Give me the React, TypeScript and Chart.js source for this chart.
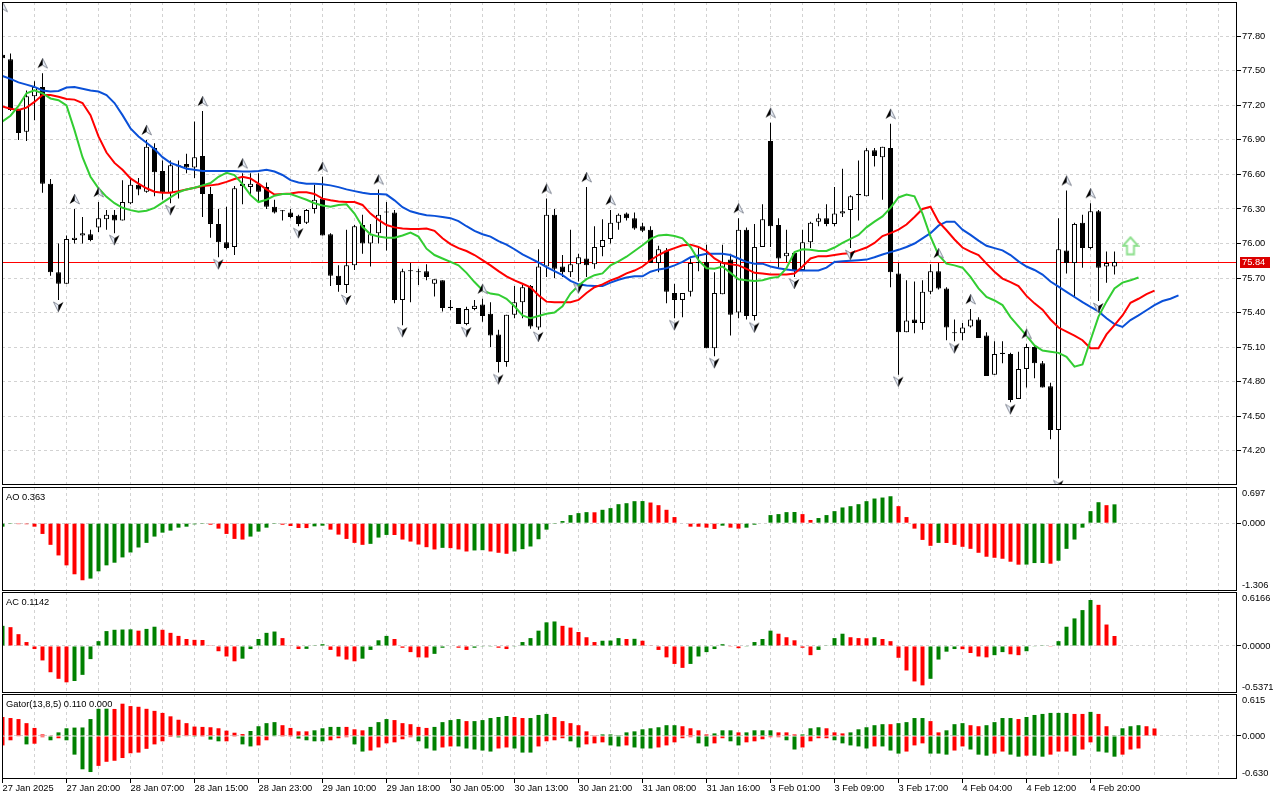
import React, { useEffect, useRef } from "react";
import { Chart, registerables } from "chart.js";

Chart.register(...registerables);

const FONT_FAMILY = '"Liberation Sans", Arial, sans-serif';
const FONT_SIZE = 9.3;
const GRID_COLOR = "#d2d2d2";
const UP_COLOR = "#008000";
const DOWN_COLOR = "#ff0000";
const JAW_COLOR = "#0a50d8";
const TEETH_COLOR = "#ff0000";
const LIPS_COLOR = "#32cd32";
const AXIS_WIDTH = 43;
const X_MIN = -0.0625;
const X_MAX = 154.3125;
const MAIN_MIN = 73.902;
const MAIN_MAX = 78.098;

// ---- time axis ----
const axisLabelIndex = [0, 8, 16, 24, 32, 40, 48, 56, 64, 72, 80, 88, 96, 104, 112, 120, 128, 136];
const axisLabels = [
  "27 Jan 2025", "27 Jan 20:00", "28 Jan 07:00", "28 Jan 15:00", "28 Jan 23:00", "29 Jan 10:00",
  "29 Jan 18:00", "30 Jan 05:00", "30 Jan 13:00", "30 Jan 21:00", "31 Jan 08:00", "31 Jan 16:00",
  "3 Feb 01:00", "3 Feb 09:00", "3 Feb 17:00", "4 Feb 04:00", "4 Feb 12:00", "4 Feb 20:00",
];
const priceTicks = [74.2, 74.5, 74.8, 75.1, 75.4, 75.7, 76.0, 76.3, 76.6, 76.9, 77.2, 77.5, 77.8];

// ---- candles ----
const openPrices = [
  77.64, 77.60, 77.16, 76.97, 77.28, 77.36, 76.52, 75.75, 75.65, 76.03,
  76.07, 76.08, 76.14, 76.21, 76.25, 76.20, 76.35, 76.51, 76.45, 76.83,
  76.63, 76.44, 76.68, 76.69, 76.66, 76.76, 76.43, 76.17, 76.01, 75.97,
  76.52, 76.49, 76.52, 76.49, 76.32, 76.28, 76.27, 76.24, 76.18, 76.30,
  76.39, 76.08, 75.72, 75.64, 75.81, 76.16, 76.00, 76.09, 76.27, 76.27,
  75.51, 75.76, 75.75, 75.76, 75.65, 75.68, 75.45, 75.44, 75.30, 75.43,
  75.47, 75.39, 75.21, 74.97, 75.38, 75.49, 75.63, 75.27, 75.80, 76.25,
  75.80, 75.75, 75.82, 75.87, 75.82, 75.97, 76.04, 76.18, 76.26, 76.22,
  76.15, 76.12, 75.83, 75.94, 75.57, 75.51, 75.58, 75.83, 75.84, 75.09,
  75.56, 75.86, 75.40, 76.12, 75.37, 75.97, 76.89, 76.16, 75.89, 75.92,
  75.77, 76.01, 76.19, 76.22, 76.17, 76.26, 76.29, 76.42, 76.41, 76.81,
  76.75, 76.83, 75.74, 75.23, 75.34, 75.31, 75.58, 75.76, 75.61, 75.22,
  75.22, 75.28, 75.34, 75.20, 74.86, 75.04, 75.04, 74.65, 74.91, 75.10,
  74.96, 74.76, 74.38, 75.94, 75.83, 76.18, 75.96, 76.28, 75.80, 75.80,
];
const highPrices = [
  77.97, 77.65, 77.17, 77.33, 77.41, 77.48, 76.56, 76.00, 76.07, 76.30,
  76.23, 76.12, 76.36, 76.29, 76.29, 76.55, 76.57, 76.57, 76.90, 76.87,
  76.72, 76.72, 76.72, 76.78, 77.06, 77.15, 76.49, 76.30, 76.32, 76.50,
  76.61, 76.61, 76.61, 76.53, 76.38, 76.29, 76.30, 76.25, 76.30, 76.51,
  76.58, 76.09, 75.81, 76.12, 76.16, 76.25, 76.17, 76.47, 76.36, 76.29,
  75.78, 75.83, 75.78, 75.82, 75.69, 75.68, 75.51, 75.44, 75.45, 75.51,
  75.52, 75.49, 75.25, 75.38, 75.63, 75.64, 75.64, 75.95, 76.39, 76.30,
  75.90, 76.12, 75.91, 76.49, 76.15, 76.21, 76.29, 76.26, 76.27, 76.27,
  76.18, 76.15, 75.98, 75.96, 75.65, 75.57, 75.87, 75.97, 75.99, 75.75,
  75.99, 75.91, 76.22, 76.14, 76.17, 76.34, 77.05, 76.22, 76.12, 75.92,
  76.12, 76.19, 76.26, 76.34, 76.49, 76.65, 76.42, 76.72, 76.83, 76.83,
  76.84, 77.04, 75.83, 75.68, 75.67, 75.68, 75.82, 75.83, 75.62, 75.34,
  75.31, 75.43, 75.36, 75.23, 75.15, 75.15, 75.05, 75.06, 75.13, 75.11,
  74.98, 74.79, 76.22, 76.46, 76.18, 76.25, 76.35, 76.29, 75.93, 75.93,
];
const lowPrices = [
  77.50, 77.15, 76.90, 76.89, 77.07, 76.44, 75.72, 75.51, 75.65, 76.00,
  76.00, 76.02, 76.10, 76.12, 76.09, 76.20, 76.34, 76.42, 76.44, 76.41,
  76.38, 76.35, 76.39, 76.61, 76.57, 76.23, 76.05, 75.88, 75.95, 75.90,
  76.34, 76.43, 76.36, 76.30, 76.26, 76.20, 76.22, 76.15, 76.17, 76.26,
  76.07, 75.63, 75.58, 75.57, 75.77, 75.91, 75.80, 76.00, 75.94, 75.48,
  75.29, 75.49, 75.64, 75.68, 75.54, 75.41, 75.42, 75.30, 75.29, 75.42,
  75.32, 75.10, 74.88, 74.93, 75.35, 75.35, 75.26, 75.25, 75.71, 75.70,
  75.71, 75.71, 75.67, 75.71, 75.78, 75.89, 76.00, 76.12, 76.20, 76.12,
  76.10, 75.83, 75.75, 75.48, 75.35, 75.36, 75.54, 75.76, 75.09, 75.02,
  75.56, 75.20, 75.35, 75.34, 75.33, 75.97, 75.97, 75.79, 75.84, 75.71,
  75.77, 75.96, 76.15, 76.15, 76.15, 76.23, 75.96, 76.20, 76.41, 76.67,
  76.38, 75.62, 74.86, 75.23, 75.22, 75.25, 75.56, 75.60, 75.16, 75.15,
  75.16, 75.27, 75.18, 74.85, 74.86, 74.96, 74.62, 74.65, 74.75, 74.83,
  74.75, 74.30, 73.96, 75.74, 75.53, 75.79, 75.95, 75.50, 75.66, 75.73,
];
const closePrices = [
  77.61, 77.16, 76.96, 77.28, 77.36, 76.52, 75.75, 75.65, 76.04, 76.05,
  76.09, 76.03, 76.22, 76.25, 76.20, 76.36, 76.51, 76.47, 76.84, 76.62,
  76.44, 76.68, 76.67, 76.66, 76.75, 76.43, 76.17, 76.01, 75.96, 76.48,
  76.50, 76.52, 76.45, 76.32, 76.27, 76.28, 76.23, 76.17, 76.29, 76.38,
  76.07, 75.72, 75.64, 75.81, 76.15, 76.00, 76.08, 76.25, 76.27, 75.51,
  75.76, 75.76, 75.76, 75.71, 75.69, 75.44, 75.44, 75.30, 75.43, 75.46,
  75.37, 75.20, 74.97, 75.38, 75.49, 75.62, 75.28, 75.80, 76.25, 75.78,
  75.75, 75.82, 75.88, 75.81, 75.97, 76.03, 76.18, 76.25, 76.22, 76.13,
  76.11, 75.83, 75.95, 75.58, 75.51, 75.57, 75.83, 75.83, 75.09, 75.57,
  75.84, 75.38, 76.12, 75.37, 75.97, 76.21, 76.15, 75.87, 75.92, 75.77,
  76.01, 76.18, 76.22, 76.17, 76.26, 76.28, 76.41, 76.43, 76.81, 76.76,
  76.84, 75.75, 75.23, 75.33, 75.31, 75.58, 75.76, 75.61, 75.27, 75.22,
  75.27, 75.34, 75.18, 74.85, 75.04, 75.05, 74.64, 74.91, 75.10, 74.96,
  74.75, 74.38, 75.95, 75.83, 76.17, 75.96, 76.28, 75.79, 75.83, 75.84,
];

// ---- Alligator (already shifted forward) ----
const jawLine = [
  77.455, 77.43, 77.40, 77.38, 77.36, 77.33, 77.32, 77.325, 77.355, 77.36,
  77.345, 77.33, 77.32, 77.29, 77.22, 77.115, 77.00, 76.93, 76.875, 76.82,
  76.75, 76.70, 76.675, 76.65, 76.64, 76.63, 76.63, 76.63, 76.63, 76.63,
  76.625, 76.625, 76.63, 76.64, 76.625, 76.595, 76.55, 76.53, 76.52, 76.52,
  76.515, 76.505, 76.49, 76.47, 76.455, 76.44, 76.43, 76.43, 76.425, 76.375,
  76.315, 76.28, 76.26, 76.245, 76.24, 76.23, 76.22, 76.195, 76.15, 76.11,
  76.08, 76.06, 76.02, 75.99, 75.95, 75.905, 75.87, 75.835, 75.795, 75.76,
  75.725, 75.675, 75.645, 75.635, 75.63, 75.63, 75.66, 75.685, 75.705, 75.715,
  75.715, 75.755, 75.775, 75.785, 75.81, 75.84, 75.88, 75.895, 75.91, 75.91,
  75.91, 75.90, 75.87, 75.84, 75.825, 75.825, 75.80, 75.785, 75.775, 75.765,
  75.765, 75.765, 75.765, 75.79, 75.84, 75.845, 75.85, 75.855, 75.86, 75.88,
  75.905, 75.925, 75.945, 75.97, 76.00, 76.045, 76.09, 76.155, 76.19, 76.19,
  76.12, 76.075, 76.025, 75.98, 75.96, 75.94, 75.90, 75.845, 75.80, 75.77,
  75.73, 75.67, 75.625, 75.58, 75.535, 75.49, 75.45, 75.41, 75.35, 75.30,
  75.275, 75.335, 75.375, 75.42, 75.465, 75.50, 75.52, 75.55,
];
const teethLine = [
  77.19, 77.17, 77.16, 77.18, 77.23, 77.29, 77.29, 77.275, 77.255, 77.25,
  77.22, 77.115, 76.93, 76.79, 76.70, 76.64, 76.565, 76.52, 76.48, 76.45,
  76.44, 76.44, 76.455, 76.47, 76.485, 76.50, 76.505, 76.515, 76.535, 76.56,
  76.58, 76.565, 76.52, 76.47, 76.425, 76.43, 76.435, 76.445, 76.445, 76.43,
  76.39, 76.375, 76.365, 76.36, 76.36, 76.335, 76.26, 76.205, 76.16, 76.14,
  76.13, 76.125, 76.125, 76.13, 76.11, 76.045, 75.995, 75.96, 75.935, 75.90,
  75.855, 75.81, 75.76, 75.715, 75.68, 75.65, 75.62, 75.55, 75.495, 75.49,
  75.49, 75.49, 75.51, 75.57, 75.62, 75.645, 75.68, 75.705, 75.74, 75.765,
  75.80, 75.855, 75.90, 75.935, 75.96, 75.985, 75.99, 75.97, 75.935, 75.87,
  75.83, 75.82, 75.81, 75.78, 75.745, 75.74, 75.73, 75.73, 75.73, 75.74,
  75.80, 75.87, 75.89, 75.89, 75.90, 75.91, 75.915, 75.94, 75.965, 76.005,
  76.065, 76.09, 76.12, 76.165, 76.23, 76.30, 76.32, 76.19, 76.115, 76.035,
  75.965, 75.93, 75.90, 75.825, 75.755, 75.695, 75.665, 75.63, 75.545, 75.48,
  75.425, 75.34, 75.27, 75.235, 75.20, 75.16, 75.09, 75.09, 75.21, 75.29,
  75.375, 75.485, 75.52, 75.56, 75.59,
];
const lipsLine = [
  77.06, 77.11, 77.195, 77.305, 77.33, 77.305, 77.26, 77.245, 77.20, 76.985,
  76.75, 76.58, 76.48, 76.405, 76.35, 76.31, 76.29, 76.275, 76.285, 76.31,
  76.355, 76.40, 76.445, 76.47, 76.485, 76.505, 76.525, 76.58, 76.615, 76.595,
  76.515, 76.42, 76.36, 76.38, 76.415, 76.43, 76.43, 76.405, 76.38, 76.35,
  76.33, 76.32, 76.335, 76.34, 76.26, 76.145, 76.08, 76.06, 76.05, 76.05,
  76.07, 76.095, 76.06, 75.955, 75.90, 75.87, 75.84, 75.81, 75.745, 75.665,
  75.595, 75.565, 75.555, 75.52, 75.455, 75.375, 75.35, 75.37, 75.39, 75.40,
  75.455, 75.565, 75.635, 75.69, 75.725, 75.74, 75.81, 75.845, 75.885, 75.935,
  75.985, 76.04, 76.07, 76.075, 76.065, 76.045, 75.97, 75.855, 75.785, 75.78,
  75.80, 75.745, 75.69, 75.68, 75.675, 75.68, 75.70, 75.71, 75.785, 75.925,
  75.95, 75.945, 75.935, 75.935, 75.965, 76.005, 76.04, 76.075, 76.14, 76.19,
  76.235, 76.31, 76.40, 76.425, 76.41, 76.26, 76.06, 75.90, 75.825, 75.81,
  75.79, 75.71, 75.61, 75.535, 75.505, 75.465, 75.36, 75.28, 75.20, 75.115,
  75.07, 75.06, 75.05, 75.015, 74.93, 74.95, 75.16, 75.365, 75.495, 75.61,
  75.66, 75.68, 75.705,
];

// ---- Fractals, bid, signal ----
const fractalUpIndex = [0, 5, 9, 12, 18, 25, 30, 40, 47, 60, 68, 73, 76, 92, 96, 111, 117, 121, 128, 133, 136];
const fractalDownIndex = [7, 14, 21, 27, 37, 43, 50, 58, 62, 67, 72, 84, 89, 94, 99, 106, 112, 119, 126, 132, 137];
const bidPrice = 75.84;
const signalIndex = 141;
const signalPrice = 75.98;

// ---- Awesome Oscillator ----
const aoTitle = "AO 0.363";
const aoRange = [-1.306, 0.697];
const aoLabels = ["0.697", "0.000", "-1.306"];
const aoValues = [
  -0.067, -0.016, -0.018, -0.02, -0.067, -0.207, -0.417, -0.621, -0.812, -0.984,
  -1.099, -1.067, -0.927, -0.812, -0.761, -0.659, -0.564, -0.468, -0.379, -0.258,
  -0.182, -0.143, -0.086, -0.067, -0.022, -0.016, -0.029, -0.105, -0.207, -0.303,
  -0.315, -0.258, -0.162, -0.086, -0.003, -0.029, -0.054, -0.092, -0.094, -0.061,
  -0.048, -0.124, -0.22, -0.303, -0.379, -0.417, -0.398, -0.277, -0.226, -0.228,
  -0.315, -0.354, -0.411, -0.462, -0.506, -0.475, -0.48, -0.506, -0.545, -0.525,
  -0.52, -0.545, -0.57, -0.589, -0.545, -0.5, -0.449, -0.309, -0.124, -0.016,
  0.041, 0.156, 0.194, 0.213, 0.21, 0.258, 0.29, 0.366, 0.385, 0.424,
  0.426, 0.398, 0.347, 0.258, 0.118, 0.01, -0.067, -0.068, -0.086, -0.111,
  -0.048, -0.086, -0.105, -0.086, -0.029, -0.01, 0.156, 0.175, 0.213, 0.215,
  0.175, 0.061, 0.099, 0.156, 0.232, 0.303, 0.328, 0.366, 0.424, 0.475,
  0.494, 0.519, 0.328, 0.118, -0.105, -0.322, -0.436, -0.379, -0.381, -0.417,
  -0.455, -0.494, -0.57, -0.646, -0.666, -0.685, -0.742, -0.799, -0.797, -0.768,
  -0.766, -0.78, -0.723, -0.494, -0.315, -0.086, 0.232, 0.404, 0.347, 0.363,
];

// ---- Accelerator Oscillator ----
const acTitle = "AC 0.1142";
const acRange = [-0.5371, 0.6166];
const acLabels = ["0.6166", "0.0000", "-0.5371"];
const acValues = [
  0.23, 0.215, 0.135, 0.045, -0.035, -0.165, -0.30, -0.375, -0.415, -0.40,
  -0.33, -0.15, 0.055, 0.17, 0.185, 0.188, 0.19, 0.175, 0.195, 0.22,
  0.185, 0.15, 0.115, 0.08, 0.07, 0.068, 0.008, -0.06, -0.12, -0.175,
  -0.145, -0.035, 0.08, 0.15, 0.165, 0.09, 0.004, -0.035, -0.033, 0.003,
  0.02, -0.045, -0.12, -0.155, -0.175, -0.145, -0.045, 0.065, 0.115, 0.08,
  -0.02, -0.07, -0.13, -0.132, -0.09, -0.02, -0.005, -0.02, -0.045, -0.02,
  -0.008, -0.003, -0.02, -0.035, -0.008, 0.045, 0.09, 0.175, 0.27, 0.28,
  0.23, 0.21, 0.16, 0.10, 0.045, 0.06, 0.062, 0.09, 0.08, 0.082,
  0.06, 0.004, -0.045, -0.13, -0.205, -0.25, -0.205, -0.12, -0.07, -0.035,
  0.02, -0.008, -0.025, -0.008, 0.045, 0.08, 0.175, 0.14, 0.10, 0.065,
  -0.02, -0.105, -0.045, 0.004, 0.09, 0.14, 0.10, 0.09, 0.088, 0.10,
  0.08, 0.055, -0.135, -0.28, -0.405, -0.45, -0.375, -0.155, -0.065, -0.035,
  -0.037, -0.08, -0.12, -0.13, -0.105, -0.07, -0.095, -0.105, -0.06, -0.004,
  0.008, -0.008, 0.055, 0.22, 0.315, 0.41, 0.525, 0.47, 0.245, 0.1142,
];

// ---- Gator Oscillator ----
const gatorTitle = "Gator(13,8,5) 0.110 0.000";
const gatorRange = [-0.63, 0.615];
const gatorLabels = ["0.615", "0.000", "-0.630"];
const gatorUpper = [
  0.278, 0.263, 0.248, 0.188, 0.118, 0.023, 0.005, 0.053, 0.113, 0.123,
  0.125, 0.248, 0.398, 0.400, 0.396, 0.473, 0.438, 0.428, 0.398, 0.368,
  0.338, 0.288, 0.238, 0.188, 0.138, 0.133, 0.128, 0.113, 0.078, 0.048,
  0.028, 0.073, 0.143, 0.188, 0.203, 0.158, 0.118, 0.068, 0.068, 0.083,
  0.113, 0.133, 0.133, 0.133, 0.098, 0.083, 0.133, 0.203, 0.248, 0.233,
  0.188, 0.173, 0.133, 0.118, 0.133, 0.203, 0.233, 0.248, 0.218, 0.218,
  0.233, 0.263, 0.278, 0.293, 0.278, 0.263, 0.263, 0.308, 0.323, 0.278,
  0.218, 0.188, 0.158, 0.068, 0.003, 0.023, 0.023, 0.013, 0.053, 0.068,
  0.098, 0.113, 0.128, 0.158, 0.158, 0.143, 0.113, 0.083, 0.023, 0.038,
  0.083, 0.083, 0.053, 0.053, 0.083, 0.083, 0.083, 0.053, 0.053, 0.023,
  0.023, 0.113, 0.128, 0.113, 0.053, 0.038, 0.053, 0.098, 0.128, 0.158,
  0.173, 0.173, 0.188, 0.203, 0.263, 0.263, 0.218, 0.053, 0.083, 0.173,
  0.188, 0.158, 0.143, 0.158, 0.203, 0.263, 0.263, 0.248, 0.278, 0.308,
  0.323, 0.338, 0.338, 0.338, 0.323, 0.323, 0.353, 0.323, 0.143, 0.003,
  0.113, 0.143, 0.158, 0.143, 0.110,
];
const gatorLower = [
  -0.138, -0.063, -0.005, -0.123, -0.113, -0.018, -0.063, -0.033, -0.063, -0.273,
  -0.488, -0.528, -0.438, -0.378, -0.363, -0.323, -0.253, -0.243, -0.188, -0.123,
  -0.078, -0.015, -0.02, -0.005, -0.003, -0.003, -0.053, -0.078, -0.078, -0.003,
  -0.123, -0.153, -0.138, -0.063, -0.01, -0.003, -0.003, -0.038, -0.063, -0.078,
  -0.078, -0.063, -0.033, -0.018, -0.123, -0.228, -0.213, -0.168, -0.108, -0.093,
  -0.048, -0.018, -0.078, -0.183, -0.213, -0.168, -0.153, -0.153, -0.183, -0.198,
  -0.213, -0.228, -0.183, -0.168, -0.183, -0.243, -0.243, -0.153, -0.078, -0.063,
  -0.033, -0.078, -0.168, -0.123, -0.108, -0.093, -0.138, -0.153, -0.138, -0.168,
  -0.183, -0.183, -0.168, -0.138, -0.093, -0.033, -0.018, -0.108, -0.153, -0.108,
  -0.033, -0.078, -0.138, -0.093, -0.078, -0.048, -0.018, -0.018, -0.063, -0.198,
  -0.168, -0.078, -0.033, -0.033, -0.063, -0.108, -0.138, -0.153, -0.183, -0.153,
  -0.153, -0.213, -0.258, -0.228, -0.138, -0.108, -0.258, -0.258, -0.273, -0.213,
  -0.153, -0.198, -0.273, -0.288, -0.258, -0.228, -0.273, -0.303, -0.288, -0.288,
  -0.303, -0.273, -0.228, -0.228, -0.288, -0.198, -0.093, -0.228, -0.243, -0.303,
  -0.273, -0.198, -0.183,
];
// u = rising (green), d = falling (red)
const gatorUpperTrend =
  "ddddddduuu" + "uuuudddddd" + "dddddddddd" + "duuuuddddu" + "uuuddduuud" +
  "dddduuuudu" + "uuuudduuud" + "ddddduuuuu" + "uuuuuddddu" + "uuduuuuddd" +
  "uuuddduuuu" + "uduuuudduu" + "udduuuuduu" + "uuuudduddu" + "uuudd";
const gatorLowerTrend =
  "dddudduduu" + "uudddddddd" + "ddududuudd" + "uuddudduuu" + "uddduudddd" +
  "dduuudduuu" + "uudduuuddd" + "duuddduudu" + "uuddddduud" + "duuddddduu" +
  "dddduuuuud" + "uuuddduuud" + "duuudduudu" + "udddudduuu" + "ddd";

// ---- helpers ----
const gridIndex = Array.from({ length: 39 }, (_, k) => 4 * k);
const fontSpec = { family: FONT_FAMILY, size: FONT_SIZE };
const ctxFont = `${FONT_SIZE}px ${FONT_FAMILY}`;

function trendColor(values: number[], i: number) {
  return i === 0 || values[i] >= values[i - 1] ? UP_COLOR : DOWN_COLOR;
}

function xAxis(showLabels: boolean) {
  return {
    type: "linear",
    min: X_MIN,
    max: X_MAX,
    bounds: "data",
    offset: false,
    grid: {
      color: (c: any) => (c.tick && c.tick.value === 0 ? "rgba(0,0,0,0)" : GRID_COLOR),
      offset: false,
      drawTicks: showLabels,
      tickLength: 4,
      tickBorderDash: [],
      tickColor: (c: any) =>
        c.tick && axisLabelIndex.includes(c.tick.value) ? "#000" : "rgba(0,0,0,0)",
    },
    border: { display: false, dash: [3, 3] },
    ticks: {
      display: showLabels,
      autoSkip: false,
      maxRotation: 0,
      minRotation: 0,
      align: "start",
      padding: 0,
      color: "#000",
      font: fontSpec,
      callback: (v: any) => {
        const k = axisLabelIndex.indexOf(Number(v));
        return k >= 0 ? axisLabels[k] : "";
      },
    },
    afterBuildTicks: (s: any) => {
      s.ticks = gridIndex.map((v) => ({ value: v }));
    },
    afterFit: (s: any) => {
      s.height = showLabels ? 21 : 0;
      s.paddingLeft = 0;
      s.paddingRight = 0;
    },
  };
}

function subYAxis(range: number[]) {
  return {
    type: "linear",
    position: "right",
    min: range[0],
    max: range[1],
    bounds: "data",
    beginAtZero: false,
    grid: { color: GRID_COLOR, drawTicks: true, tickLength: 4, tickColor: "#000", tickBorderDash: [] },
    border: { display: false, dash: [3, 3] },
    ticks: { display: false },
    afterBuildTicks: (s: any) => {
      s.ticks = [{ value: 0 }];
    },
    afterFit: (s: any) => {
      s.width = AXIS_WIDTH;
      s.paddingTop = 0;
      s.paddingBottom = 0;
    },
  };
}

const framePlugin = {
  id: "frame",
  afterDraw(chart: any) {
    const { ctx, chartArea: a } = chart;
    ctx.save();
    ctx.strokeStyle = "#000";
    ctx.lineWidth = 1;
    ctx.strokeRect(a.left + 0.5, a.top + 0.5, a.right - a.left - 1, a.bottom - a.top - 1);
    ctx.restore();
  },
};

function panelTextPlugin(title: string, labels: string[]) {
  return {
    id: "panelText",
    afterDraw(chart: any) {
      const { ctx, chartArea: a, scales } = chart;
      ctx.save();
      ctx.fillStyle = "#000";
      ctx.font = ctxFont;
      ctx.textBaseline = "middle";
      ctx.textAlign = "left";
      ctx.fillText(title, a.left + 4, a.top + 10);
      const x = a.right + 5;
      ctx.fillText(labels[0], x, a.top + 6);
      ctx.fillText(labels[1], x, scales.y.getPixelForValue(0));
      ctx.fillText(labels[2], x, a.bottom - 6);
      ctx.restore();
    },
  };
}

const bidPlugin = {
  id: "bid",
  beforeDatasetsDraw(chart: any) {
    const { ctx, chartArea: a, scales } = chart;
    const y = Math.round(scales.y.getPixelForValue(bidPrice)) + 0.5;
    ctx.save();
    ctx.strokeStyle = "#ff0000";
    ctx.lineWidth = 1;
    ctx.beginPath();
    ctx.moveTo(a.left, y);
    ctx.lineTo(a.right, y);
    ctx.stroke();
    ctx.restore();
  },
  afterDraw(chart: any) {
    const { ctx, chartArea: a, scales } = chart;
    const y = Math.round(scales.y.getPixelForValue(bidPrice));
    ctx.save();
    ctx.fillStyle = "#dc0000";
    ctx.fillRect(a.right + 3, y - 5, 30, 11);
    ctx.fillStyle = "#fff";
    ctx.font = ctxFont;
    ctx.textBaseline = "middle";
    ctx.textAlign = "left";
    ctx.fillText(bidPrice.toFixed(2), a.right + 5, y + 0.5);
    ctx.restore();
  },
};

function makeFractalIcon(up: boolean) {
  const c = document.createElement("canvas");
  c.width = 11;
  c.height = 40;
  const g = c.getContext("2d")!;
  const cy = up ? 10 : 27;
  const s = up ? 1 : -1;
  const tip = [5.5, cy - 5 * s];
  const baseL = [0.5, cy + 5 * s];
  const baseR = [10.5, cy + 5 * s];
  const notch = [5.5, cy + 2 * s];
  // shaded half
  g.beginPath();
  g.moveTo(tip[0], tip[1]);
  g.lineTo(notch[0], notch[1]);
  g.lineTo(up ? baseR[0] : baseL[0], up ? baseR[1] : baseL[1]);
  g.closePath();
  g.fillStyle = "#e8eef8";
  g.fill();
  g.strokeStyle = "#8a8f9a";
  g.lineWidth = 1;
  g.stroke();
  // black half
  g.beginPath();
  g.moveTo(tip[0], tip[1]);
  g.lineTo(up ? baseL[0] : baseR[0], up ? baseL[1] : baseR[1]);
  g.lineTo(notch[0], notch[1]);
  g.closePath();
  g.fillStyle = "#000";
  g.fill();
  return c;
}

function makeSignalIcon() {
  const c = document.createElement("canvas");
  c.width = 18;
  c.height = 20;
  const g = c.getContext("2d")!;
  g.beginPath();
  g.moveTo(9, 1.5);
  g.lineTo(16.5, 10);
  g.lineTo(12.5, 10);
  g.lineTo(12.5, 18.5);
  g.lineTo(5.5, 18.5);
  g.lineTo(5.5, 10);
  g.lineTo(1.5, 10);
  g.closePath();
  g.fillStyle = "#ffffff";
  g.fill();
  g.strokeStyle = "#8fe08f";
  g.lineWidth = 2;
  g.stroke();
  return c;
}

const baseOptions = (padding: any) => ({
  responsive: false,
  animation: false,
  events: [],
  layout: { autoPadding: false, padding },
  plugins: { legend: { display: false }, tooltip: { enabled: false } },
});

function lineDataset(values: number[], color: string, order: number) {
  return {
    type: "line",
    data: values.map((v, i) => ({ x: i, y: v })),
    borderColor: color,
    borderWidth: 2,
    pointRadius: 0,
    tension: 0,
    fill: false,
    order,
    clip: 0,
  };
}

function histogram(values: number[], color: (i: number) => string) {
  return {
    type: "bar",
    data: values.map((v, i) => ({ x: i, y: v })),
    backgroundColor: (c: any) => color(c.dataIndex),
    borderWidth: 0,
    barThickness: 4,
    grouped: false,
    inflateAmount: 0,
    clip: 0,
  };
}

export default function App() {
  const mainRef = useRef<HTMLCanvasElement>(null);
  const aoRef = useRef<HTMLCanvasElement>(null);
  const acRef = useRef<HTMLCanvasElement>(null);
  const gatorRef = useRef<HTMLCanvasElement>(null);

  useEffect(() => {
    const upIcon = makeFractalIcon(true);
    const downIcon = makeFractalIcon(false);
    const signalIcon = makeSignalIcon();
    const charts: any[] = [];

    charts.push(
      new Chart(mainRef.current as any, {
        type: "bar",
        data: {
          datasets: [
            {
              type: "bar",
              data: highPrices.map((h, i) => ({ x: i, y: [lowPrices[i], h] })),
              backgroundColor: "#000",
              borderWidth: 0,
              barThickness: 1,
              grouped: false,
              inflateAmount: 0,
              order: 10,
              clip: 0,
            },
            {
              type: "bar",
              data: openPrices.map((o, i) => ({ x: i, y: [o, closePrices[i]] })),
              backgroundColor: (c: any) =>
                closePrices[c.dataIndex] >= openPrices[c.dataIndex] ? "#ffffff" : "#000000",
              borderColor: "#000",
              borderWidth: 1,
              borderSkipped: false,
              barThickness: 5,
              minBarLength: 1,
              grouped: false,
              inflateAmount: 0,
              order: 9,
              clip: 0,
            },
            lineDataset(jawLine, JAW_COLOR, 3),
            lineDataset(teethLine, TEETH_COLOR, 2),
            lineDataset(lipsLine, LIPS_COLOR, 1),
            {
              type: "line",
              data: fractalUpIndex.map((i) => ({ x: i, y: highPrices[i] })),
              showLine: false,
              pointStyle: upIcon,
              pointRadius: 4,
              order: 0,
              clip: 0,
            },
            {
              type: "line",
              data: fractalDownIndex.map((i) => ({ x: i, y: lowPrices[i] })),
              showLine: false,
              pointStyle: downIcon,
              pointRadius: 4,
              order: 0,
              clip: 0,
            },
            {
              type: "line",
              data: [{ x: signalIndex, y: signalPrice }],
              showLine: false,
              pointStyle: signalIcon,
              pointRadius: 4,
              order: 0,
              clip: 0,
            },
          ],
        },
        options: {
          ...baseOptions({ left: 2, top: 2, right: 0, bottom: 2 }),
          scales: {
            x: xAxis(false),
            y: {
              type: "linear",
              position: "right",
              min: MAIN_MIN,
              max: MAIN_MAX,
              bounds: "data",
              beginAtZero: false,
              grid: { color: GRID_COLOR, drawTicks: true, tickLength: 4, tickColor: "#000", tickBorderDash: [] },
              border: { display: false, dash: [3, 3] },
              ticks: { color: "#000", font: fontSpec, padding: 1, callback: (v: any) => Number(v).toFixed(2) },
              afterBuildTicks: (s: any) => {
                s.ticks = priceTicks.map((v) => ({ value: v }));
              },
              afterFit: (s: any) => {
                s.width = AXIS_WIDTH;
                s.paddingTop = 0;
                s.paddingBottom = 0;
              },
            },
          },
        } as any,
        plugins: [bidPlugin, framePlugin],
      } as any)
    );

    charts.push(
      new Chart(aoRef.current as any, {
        type: "bar",
        data: { datasets: [histogram(aoValues, (i) => trendColor(aoValues, i))] },
        options: {
          ...baseOptions({ left: 2, top: 0, right: 0, bottom: 0 }),
          scales: { x: xAxis(false), y: subYAxis(aoRange) },
        } as any,
        plugins: [framePlugin, panelTextPlugin(aoTitle, aoLabels)],
      } as any)
    );

    charts.push(
      new Chart(acRef.current as any, {
        type: "bar",
        data: { datasets: [histogram(acValues, (i) => trendColor(acValues, i))] },
        options: {
          ...baseOptions({ left: 2, top: 0, right: 0, bottom: 0 }),
          scales: { x: xAxis(false), y: subYAxis(acRange) },
        } as any,
        plugins: [framePlugin, panelTextPlugin(acTitle, acLabels)],
      } as any)
    );

    charts.push(
      new Chart(gatorRef.current as any, {
        type: "bar",
        data: {
          datasets: [
            histogram(gatorUpper, (i) => (gatorUpperTrend[i] === "u" ? UP_COLOR : DOWN_COLOR)),
            histogram(gatorLower, (i) => (gatorLowerTrend[i] === "u" ? UP_COLOR : DOWN_COLOR)),
          ],
        },
        options: {
          ...baseOptions({ left: 2, top: 0, right: 0, bottom: 0 }),
          scales: { x: xAxis(true), y: subYAxis(gatorRange) },
        } as any,
        plugins: [framePlugin, panelTextPlugin(gatorTitle, gatorLabels)],
      } as any)
    );

    return () => {
      charts.forEach((c) => c.destroy());
    };
  }, []);

  const canvasStyle = (top: number): React.CSSProperties => ({ position: "absolute", left: 0, top });

  return (
    <div
      style={{
        position: "fixed",
        left: 0,
        top: 0,
        width: 1280,
        height: 800,
        background: "#ffffff",
        overflow: "hidden",
      }}
    >
      <canvas ref={mainRef} width={1280} height={487} style={canvasStyle(0)} />
      <canvas ref={aoRef} width={1280} height={104} style={canvasStyle(487)} />
      <canvas ref={acRef} width={1280} height={101} style={canvasStyle(592)} />
      <canvas ref={gatorRef} width={1280} height={106} style={canvasStyle(694)} />
    </div>
  );
}
